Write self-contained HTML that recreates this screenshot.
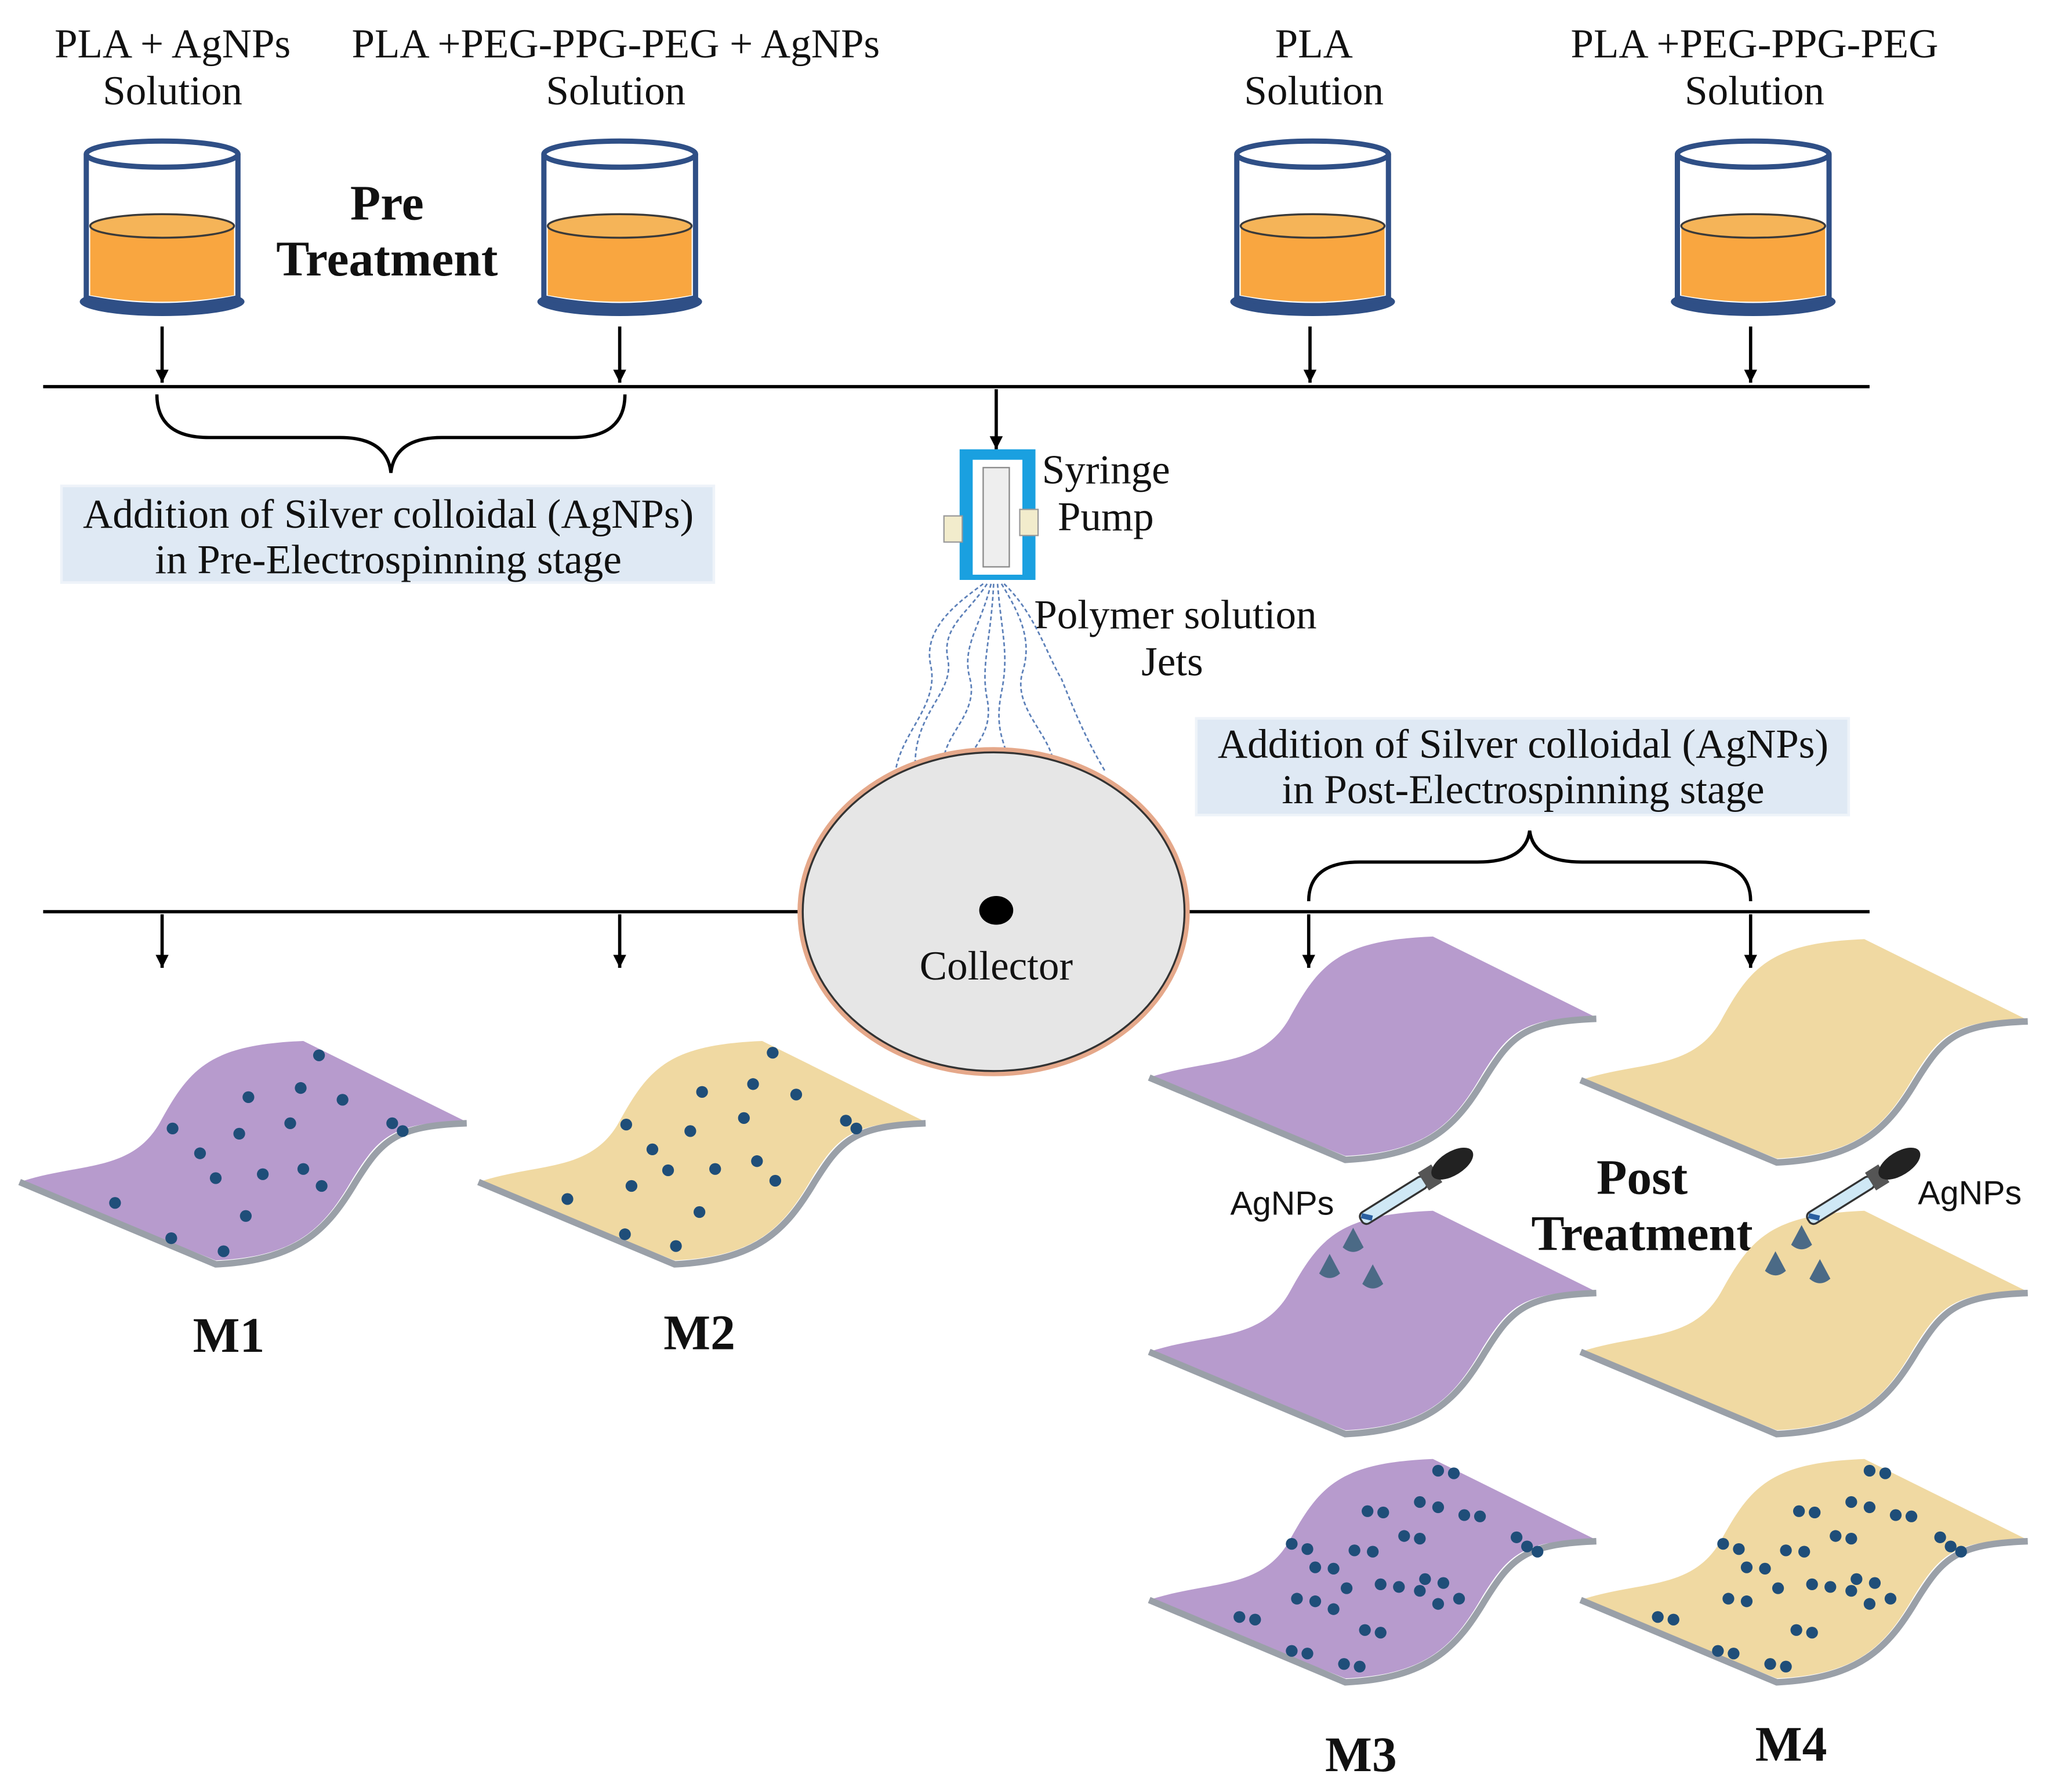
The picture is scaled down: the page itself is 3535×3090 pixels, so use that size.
<!DOCTYPE html>
<html><head><meta charset="utf-8"><style>
html,body{margin:0;padding:0;background:#fff}
svg{display:block}
.t{font-family:"Liberation Serif",serif;fill:#111}
.s{font-family:"Liberation Sans",sans-serif;fill:#111}
</style></head><body>
<svg width="3535" height="3090" viewBox="0 0 1568 1372" preserveAspectRatio="none" xmlns="http://www.w3.org/2000/svg">
<defs>
<marker id="ar" markerWidth="12" markerHeight="12" refX="10" refY="5" orient="auto" markerUnits="userSpaceOnUse">
<path d="M0,0 L10,5 L0,10 Z" fill="#000"/></marker>
<g id="beaker">
<ellipse cx="0" cy="113" rx="63" ry="11" fill="#2f4f86"/>
<path d="M-58,0 L-58,110 Q0,122 58,110 L58,0" fill="#fff" stroke="#2f4f86" stroke-width="4"/>
<path d="M-55,55 L-55,108 Q0,118 55,108 L55,55 Z" fill="#f9a640"/>
<ellipse cx="0" cy="55" rx="55" ry="9" fill="#f5b458" stroke="#3a3a3a" stroke-width="1.5"/>
<ellipse cx="0" cy="0" rx="58" ry="10" fill="#fff" stroke="#2f4f86" stroke-width="4"/>
</g>
<path id="sheet" d="M15,905 C60,890 100,898 122,860 C145,818 160,800 232,797 L355,858 C300,860 290,870 270,902 C248,940 228,962 165,965 Z"/>
<path id="edge" d="M15,905 L165,968 C228,965 250,942 272,905 C292,873 302,862 357,860" fill="none" stroke="#9aa0a8" stroke-width="5"/>
<g id="drop"><path d="M0,-10 L-8,5 Q0,12 8,5 Z" fill="#4b6a86"/></g>
<g id="dropper"><rect x="-4" y="0" width="58" height="10" rx="4" fill="#cfe8f5" stroke="#333" stroke-width="1.5" transform="rotate(-32)"/><rect x="52" y="-3" width="12" height="16" fill="#555" transform="rotate(-32)"/><ellipse cx="78" cy="5" rx="18" ry="9" fill="#222" transform="rotate(-32)"/><path d="M-2,2 L4,8" stroke="#2a5fa0" stroke-width="4" transform="rotate(-32)"/></g>
</defs>

<g class="t" font-size="31.5" text-anchor="middle">
<text x="132" y="44">PLA + AgNPs</text><text x="132" y="80">Solution</text>
<text x="471" y="44">PLA +PEG-PPG-PEG + AgNPs</text><text x="471" y="80">Solution</text>
<text x="1005" y="44">PLA</text><text x="1005" y="80">Solution</text>
<text x="1342" y="44">PLA +PEG-PPG-PEG</text><text x="1342" y="80">Solution</text>
</g>
<g class="t" font-size="38" font-weight="bold" text-anchor="middle">
<text x="296" y="168">Pre</text><text x="296" y="211">Treatment</text>
<text x="1256" y="914">Post</text><text x="1256" y="957">Treatment</text>
<text x="175" y="1035">M1</text><text x="535" y="1033">M2</text>
<text x="1041" y="1356">M3</text><text x="1370" y="1348">M4</text>
</g>

<use href="#beaker" x="124" y="118"/><use href="#beaker" x="474" y="118"/>
<use href="#beaker" x="1004" y="118"/><use href="#beaker" x="1341" y="118"/>

<g stroke="#000" stroke-width="2.5" fill="none">
<line x1="33" y1="296" x2="1430" y2="296"/>
<line x1="33" y1="698" x2="612" y2="698"/><line x1="908" y1="698" x2="1430" y2="698"/>
<line x1="124" y1="250" x2="124" y2="293" marker-end="url(#ar)"/>
<line x1="474" y1="250" x2="474" y2="293" marker-end="url(#ar)"/>
<line x1="1002" y1="250" x2="1002" y2="293" marker-end="url(#ar)"/>
<line x1="1339" y1="250" x2="1339" y2="293" marker-end="url(#ar)"/>
<line x1="762" y1="298" x2="762" y2="344" marker-end="url(#ar)"/>
<line x1="124" y1="700" x2="124" y2="741" marker-end="url(#ar)"/>
<line x1="474" y1="700" x2="474" y2="741" marker-end="url(#ar)"/>
<line x1="1001" y1="700" x2="1001" y2="741" marker-end="url(#ar)"/>
<line x1="1339" y1="700" x2="1339" y2="741" marker-end="url(#ar)"/>
<path d="M120,302 Q120,335 160,335 L260,335 Q296,335 299,362 Q302,335 338,335 L438,335 Q478,335 478,302"/>
<path d="M1001,690 Q1001,660 1040,660 L1130,660 Q1167,660 1170,636 Q1173,660 1210,660 L1300,660 Q1339,660 1339,690"/>
</g>

<rect x="47" y="372" width="499" height="74" fill="#dfe9f4" stroke="#eef3f9" stroke-width="2"/>
<text class="t" font-size="31.5" text-anchor="middle" x="297" y="404">Addition of Silver colloidal (AgNPs)</text>
<text class="t" font-size="31.5" text-anchor="middle" x="297" y="439">in Pre-Electrospinning stage</text>
<rect x="915" y="550" width="499" height="74" fill="#dfe9f4" stroke="#eef3f9" stroke-width="2"/>
<text class="t" font-size="31.5" text-anchor="middle" x="1165" y="580">Addition of Silver colloidal (AgNPs)</text>
<text class="t" font-size="31.5" text-anchor="middle" x="1165" y="615">in Post-Electrospinning stage</text>

<!-- syringe pump -->
<rect x="734" y="344" width="58" height="100" fill="#1aa0e0"/>
<rect x="744" y="352" width="38" height="88" fill="#fff"/>
<rect x="752" y="358" width="20" height="76" fill="#eee" stroke="#888"/>
<rect x="722" y="395" width="14" height="20" fill="#f2eccc" stroke="#999"/>
<rect x="780" y="390" width="14" height="20" fill="#f2eccc" stroke="#999"/>
<text class="t" font-size="31.5" x="797" y="370">Syringe</text>
<text class="t" font-size="31.5" x="809" y="406">Pump</text>
<text class="t" font-size="31.5" x="791" y="481">Polymer solution</text>
<text class="t" font-size="31.5" x="873" y="517">Jets</text>
<g fill="none" stroke="#5b7fb8" stroke-width="1.2" stroke-dasharray="3,2">
<path d="M755,447 C740,470 720,480 725,505 C730,530 700,545 700,585"/>
<path d="M758,447 C750,480 735,495 742,520 C748,545 725,560 722,580"/>
<path d="M760,447 C758,490 750,510 755,535 C760,560 745,570 742,580"/>
<path d="M763,447 C766,485 772,500 766,530 C760,560 770,570 770,580"/>
<path d="M766,447 C780,470 790,490 782,515 C775,540 800,560 805,580"/>
<path d="M768,447 C792,470 800,500 812,520 C820,540 830,565 845,590"/>
<path d="M752,447 C735,460 705,480 712,510 C718,540 690,560 685,590"/>
</g>

<ellipse cx="760" cy="698" rx="148" ry="124" fill="#e6e6e6" stroke="#e5a88a" stroke-width="4"/>
<ellipse cx="760" cy="698" rx="146" ry="122" fill="none" stroke="#333" stroke-width="1.5"/>
<ellipse cx="762" cy="697" rx="13" ry="11" fill="#000"/>
<text class="t" font-size="31.5" text-anchor="middle" x="762" y="750">Collector</text>

<!-- M1 -->
<g><use href="#sheet" fill="#b79bcd"/><use href="#edge"/>
<g fill="#1f4e79">
<circle cx="244" cy="808" r="4.5"/><circle cx="190" cy="840" r="4.5"/><circle cx="230" cy="833" r="4.5"/><circle cx="262" cy="842" r="4.5"/><circle cx="132" cy="864" r="4.5"/><circle cx="183" cy="868" r="4.5"/><circle cx="222" cy="860" r="4.5"/><circle cx="300" cy="860" r="4.5"/><circle cx="308" cy="866" r="4.5"/><circle cx="153" cy="883" r="4.5"/><circle cx="165" cy="902" r="4.5"/><circle cx="201" cy="899" r="4.5"/><circle cx="232" cy="895" r="4.5"/><circle cx="246" cy="908" r="4.5"/><circle cx="88" cy="921" r="4.5"/><circle cx="188" cy="931" r="4.5"/><circle cx="131" cy="948" r="4.5"/><circle cx="171" cy="958" r="4.5"/>
</g></g>
<!-- M2 -->
<g transform="translate(351,0)"><use href="#sheet" fill="#f0d9a2"/><use href="#edge"/>
<g fill="#1f4e79">
<circle cx="240" cy="806" r="4.5"/><circle cx="186" cy="836" r="4.5"/><circle cx="225" cy="830" r="4.5"/><circle cx="258" cy="838" r="4.5"/><circle cx="128" cy="861" r="4.5"/><circle cx="177" cy="866" r="4.5"/><circle cx="218" cy="856" r="4.5"/><circle cx="296" cy="858" r="4.5"/><circle cx="304" cy="864" r="4.5"/><circle cx="148" cy="880" r="4.5"/><circle cx="160" cy="896" r="4.5"/><circle cx="196" cy="895" r="4.5"/><circle cx="228" cy="889" r="4.5"/><circle cx="242" cy="904" r="4.5"/><circle cx="132" cy="908" r="4.5"/><circle cx="83" cy="918" r="4.5"/><circle cx="184" cy="928" r="4.5"/><circle cx="127" cy="945" r="4.5"/><circle cx="166" cy="954" r="4.5"/>
</g></g>
<!-- M3 / M4 top -->
<g transform="translate(864,-80)"><use href="#sheet" fill="#b79bcd"/><use href="#edge"/></g>
<g transform="translate(1194,-78)"><use href="#sheet" fill="#f0d9a2"/><use href="#edge"/></g>
<!-- middle -->
<g transform="translate(864,130)"><use href="#sheet" fill="#b79bcd"/><use href="#edge"/></g>
<g transform="translate(1194,130)"><use href="#sheet" fill="#f0d9a2"/><use href="#edge"/></g>
<use href="#drop" x="1035" y="950"/><use href="#drop" x="1017" y="970"/><use href="#drop" x="1050" y="978"/>
<use href="#drop" x="1378" y="948"/><use href="#drop" x="1358" y="968"/><use href="#drop" x="1392" y="974"/>
<use href="#dropper" x="1042" y="928"/><use href="#dropper" x="1384" y="928"/>
<text class="s" font-size="25.5" x="941" y="930">AgNPs</text>
<text class="s" font-size="25.5" x="1467" y="922">AgNPs</text>
<!-- bottom -->
<g transform="translate(864,320)"><use href="#sheet" fill="#b79bcd"/><use href="#edge"/>
<g fill="#1f4e79">
<circle cx="236" cy="806" r="4.5"/><circle cx="248" cy="808" r="4.5"/><circle cx="182" cy="837" r="4.5"/><circle cx="194" cy="838" r="4.5"/><circle cx="222" cy="830" r="4.5"/><circle cx="236" cy="834" r="4.5"/><circle cx="256" cy="840" r="4.5"/><circle cx="268" cy="841" r="4.5"/><circle cx="124" cy="862" r="4.5"/><circle cx="136" cy="866" r="4.5"/><circle cx="172" cy="867" r="4.5"/><circle cx="186" cy="868" r="4.5"/><circle cx="210" cy="856" r="4.5"/><circle cx="222" cy="858" r="4.5"/><circle cx="296" cy="857" r="4.5"/><circle cx="304" cy="864" r="4.5"/><circle cx="312" cy="868" r="4.5"/><circle cx="142" cy="880" r="4.5"/><circle cx="156" cy="881" r="4.5"/><circle cx="166" cy="896" r="4.5"/><circle cx="192" cy="893" r="4.5"/><circle cx="206" cy="895" r="4.5"/><circle cx="226" cy="889" r="4.5"/><circle cx="240" cy="892" r="4.5"/><circle cx="252" cy="904" r="4.5"/><circle cx="128" cy="904" r="4.5"/><circle cx="142" cy="906" r="4.5"/><circle cx="156" cy="912" r="4.5"/><circle cx="222" cy="898" r="4.5"/><circle cx="236" cy="908" r="4.5"/><circle cx="84" cy="918" r="4.5"/><circle cx="96" cy="920" r="4.5"/><circle cx="180" cy="928" r="4.5"/><circle cx="192" cy="930" r="4.5"/><circle cx="124" cy="944" r="4.5"/><circle cx="136" cy="946" r="4.5"/><circle cx="164" cy="954" r="4.5"/><circle cx="176" cy="956" r="4.5"/>
</g></g>
<g transform="translate(1194,320)"><use href="#sheet" fill="#f0d9a2"/><use href="#edge"/>
<g fill="#1f4e79">
<circle cx="236" cy="806" r="4.5"/><circle cx="248" cy="808" r="4.5"/><circle cx="182" cy="837" r="4.5"/><circle cx="194" cy="838" r="4.5"/><circle cx="222" cy="830" r="4.5"/><circle cx="236" cy="834" r="4.5"/><circle cx="256" cy="840" r="4.5"/><circle cx="268" cy="841" r="4.5"/><circle cx="124" cy="862" r="4.5"/><circle cx="136" cy="866" r="4.5"/><circle cx="172" cy="867" r="4.5"/><circle cx="186" cy="868" r="4.5"/><circle cx="210" cy="856" r="4.5"/><circle cx="222" cy="858" r="4.5"/><circle cx="290" cy="857" r="4.5"/><circle cx="298" cy="864" r="4.5"/><circle cx="306" cy="868" r="4.5"/><circle cx="142" cy="880" r="4.5"/><circle cx="156" cy="881" r="4.5"/><circle cx="166" cy="896" r="4.5"/><circle cx="192" cy="893" r="4.5"/><circle cx="206" cy="895" r="4.5"/><circle cx="226" cy="889" r="4.5"/><circle cx="240" cy="892" r="4.5"/><circle cx="252" cy="904" r="4.5"/><circle cx="128" cy="904" r="4.5"/><circle cx="142" cy="906" r="4.5"/><circle cx="222" cy="898" r="4.5"/><circle cx="236" cy="908" r="4.5"/><circle cx="74" cy="918" r="4.5"/><circle cx="86" cy="920" r="4.5"/><circle cx="180" cy="928" r="4.5"/><circle cx="192" cy="930" r="4.5"/><circle cx="120" cy="944" r="4.5"/><circle cx="132" cy="946" r="4.5"/><circle cx="160" cy="954" r="4.5"/><circle cx="172" cy="956" r="4.5"/>
</g></g>
</svg>
</body></html>
